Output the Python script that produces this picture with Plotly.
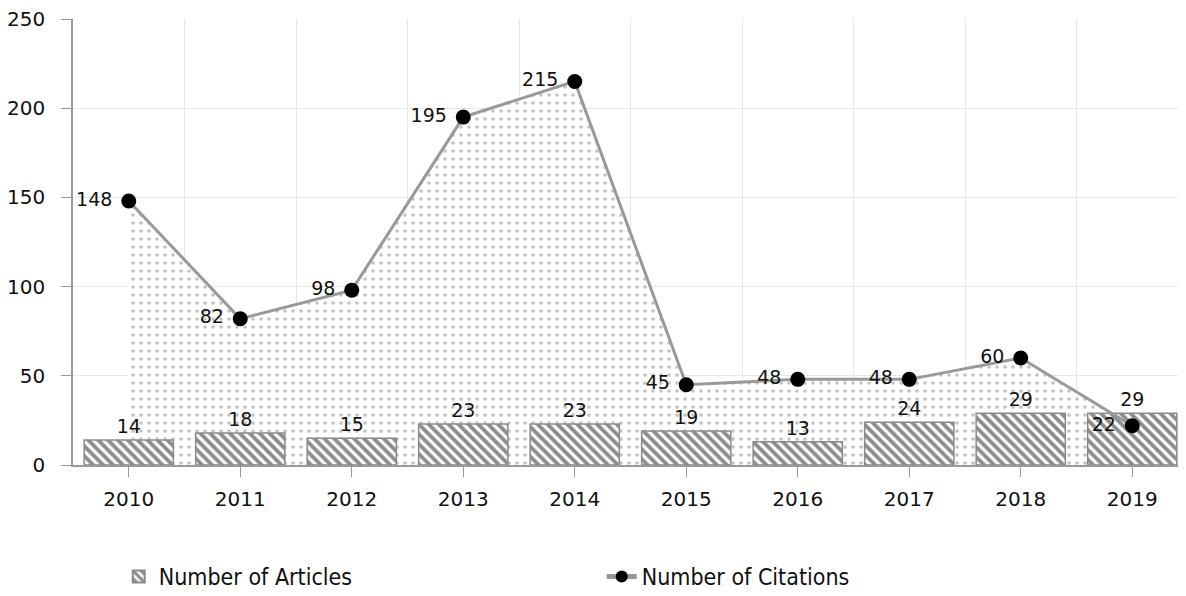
import plotly.graph_objects as go

years = [2010, 2011, 2012, 2013, 2014, 2015, 2016, 2017, 2018, 2019]
articles = [14, 18, 15, 23, 23, 19, 13, 24, 29, 29]
citations = [148, 82, 98, 195, 215, 45, 48, 48, 60, 22]
y_ticks = [0, 50, 100, 150, 200, 250]

FONT = "DejaVu Sans"

fig = go.Figure()

# dotted area under the citations line (bottom layer)
fig.add_trace(go.Scatter(
    x=years, y=citations, mode="none", fill="tozeroy",
    fillcolor="rgba(0,0,0,0)",
    fillpattern=dict(shape=".", size=8, solidity=0.17, fgcolor="#8a8a8a", bgcolor="white"),
    showlegend=False, hoverinfo="skip", xaxis="x", yaxis="y",
))

fig.add_trace(go.Bar(
    x=years, y=articles, name="Number of Articles", width=0.8,
    marker=dict(color="white", line=dict(color="#8a8a8a", width=1.5),
                pattern=dict(shape="\\", size=7, solidity=0.55, fgcolor="#1a1a1a", bgcolor="white")),
    text=[str(v) for v in articles], textposition="outside",
    textfont=dict(family=FONT, size=19, color="#111"),
    cliponaxis=False, xaxis="x", yaxis="y2",
))

fig.add_trace(go.Scatter(
    x=years, y=citations, name="Number of Citations", mode="lines+markers+text",
    line=dict(color="#999999", width=3),
    marker=dict(color="black", size=15),
    text=[str(v) + "\u00a0" for v in citations], textposition="middle left",
    textfont=dict(family=FONT, size=19, color="#111"),
    cliponaxis=False, xaxis="x", yaxis="y2",
))

yrange = [0, 250]
fig.update_layout(
    width=1186, height=596,
    margin=dict(l=65, r=6, t=11, b=139),
    paper_bgcolor="white", plot_bgcolor="white",
    font=dict(family=FONT, size=19, color="#111"),
    xaxis=dict(
        range=[2009.5, 2019.5], tickvals=years, ticktext=[str(y) for y in years],
        showgrid=False, ticks="outside", ticklen=10, tickcolor="#999",
        showline=True, linecolor="#999", linewidth=1.5,
        minor=dict(tickvals=[y + 0.5 for y in years], showgrid=True, gridcolor="#e8e8e8", gridwidth=1),
        tickfont=dict(family=FONT, size=20), zeroline=False, automargin=False,
        ticklabelstandoff=5, ticklabeloverflow="allow",
    ),
    yaxis=dict(
        range=yrange, tickvals=y_ticks, showgrid=True, gridcolor="#e8e8e8",
        ticks="outside", ticklen=10, tickcolor="#999",
        showline=True, linecolor="#999", linewidth=1.5, zeroline=False,
        tickfont=dict(family=FONT, size=20), automargin=False,
        ticklabelstandoff=12, ticklabeloverflow="allow",
    ),
    yaxis2=dict(range=yrange, overlaying="y", showgrid=False, showticklabels=False,
                zeroline=False, showline=False, automargin=False),
    legend=dict(orientation="h", x=0.041, xanchor="left", y=-0.25, yanchor="middle",
                entrywidth=438, entrywidthmode="pixels",
                font=dict(family="DejaVu Sans Condensed", size=23, color="#111"),
                itemsizing="constant", traceorder="normal"),
    showlegend=True,
)

fig.write_html("out.html")
